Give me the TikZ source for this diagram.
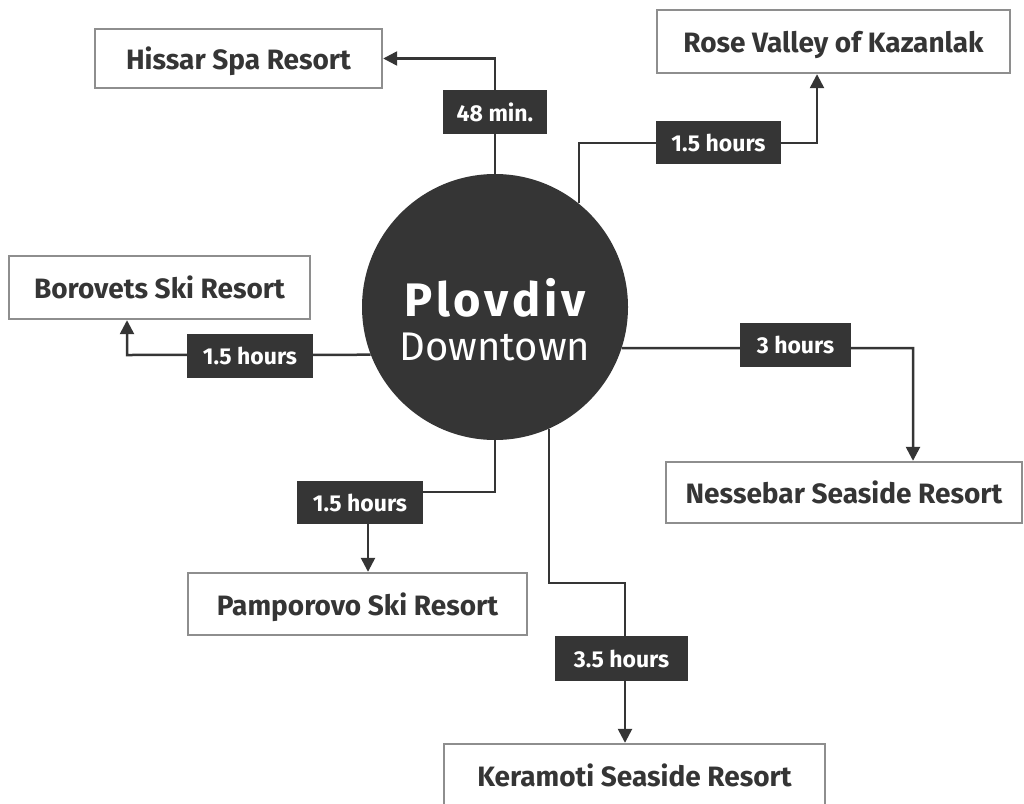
\documentclass[tikz,border=0pt]{standalone}
\usepackage{fontspec}
\setmainfont{Fira Sans}
\usetikzlibrary{arrows.meta,backgrounds}
\definecolor{dark}{HTML}{353535}
\definecolor{frame}{HTML}{8E8E8E}
\begin{document}
\begin{tikzpicture}[x=1pt,y=-1pt,
  dest/.style={draw=frame, line width=2.4pt, fill=white, inner sep=0pt, text depth=0pt,
    font=\fontsize{28}{32}\selectfont\bfseries, text=dark},
  lab/.style={fill=dark, text=white, inner sep=0pt, text depth=0pt,
    font=\fontsize{23}{26}\selectfont\bfseries},
  conn/.style={draw=dark, line width=2.5pt},
  arr/.style={conn, -{Triangle[length=14pt,width=14pt]}}]
\useasboundingbox (0,0) rectangle (1024,803);
% hub
\node[circle, fill=dark, minimum size=266pt, inner sep=0pt] (c) at (495,307) {};
\node[text=white, font=\fontsize{47}{52}\selectfont\bfseries\addfontfeatures{LetterSpace=8}] (t1) at (495,298) {Plovdiv};
\node[text=white, font=\fontsize{40}{45}\selectfont] (t2) at (495,347) {Downtown};
% destinations
\node[dest, minimum width=287pt, minimum height=59pt] (his) at (238.5,58.5) {Hissar Spa Resort};
\node[dest, minimum width=353pt, minimum height=63pt] (rose) at (833.5,41.5) {Rose Valley of Kazanlak};
\node[dest, minimum width=301pt, minimum height=63pt] (bor) at (159.5,287.5) {Borovets Ski Resort};
\node[dest, minimum width=356pt, minimum height=61pt] (nes) at (844,492.5) {Nessebar Seaside Resort};
\node[dest, minimum width=339pt, minimum height=62pt] (pam) at (357.5,604) {Pamporovo Ski Resort};
\node[dest, minimum width=381pt, minimum height=62pt] (ker) at (634.5,775) {Keramoti Seaside Resort};
% labels
\node[lab, minimum width=104pt, minimum height=44pt] (l1) at (495,112) {48 min.};
\node[lab, minimum width=125pt, minimum height=43pt] (l2) at (718.5,142.5) {1.5 hours};
\node[lab, minimum width=126pt, minimum height=44pt] (l3) at (250,356) {1.5 hours};
\node[lab, minimum width=111pt, minimum height=44pt] (l4) at (795.5,345) {3 hours};
\node[lab, minimum width=126pt, minimum height=43pt] (l5) at (360,502.5) {1.5 hours};
\node[lab, minimum width=133pt, minimum height=45pt] (l6) at (621.5,658.5) {3.5 hours};
% corners
\coordinate (r1) at (817,143);
\coordinate (b1) at (127,355);
\coordinate (n1) at (913,348);
\coordinate (p1) at (368,492);
\coordinate (k1) at (625,583);
% connectors
\begin{scope}[on background layer]
\draw[arr] (c.north) |- (his.east);
\draw[arr] (c.51.4) |- (r1) -- (r1 |- rose.south);
\draw[arr] (c.201.2) -- (b1) -- (b1 |- bor.south);
\draw[arr] (c.-18) -- (n1) -- (n1 |- nes.north);
\draw[arr] (c.south) |- (p1) -- (p1 |- pam.north);
\draw[arr] (c.-66) |- (k1) -- (k1 |- ker.north);
\end{scope}
\end{tikzpicture}
\end{document}
